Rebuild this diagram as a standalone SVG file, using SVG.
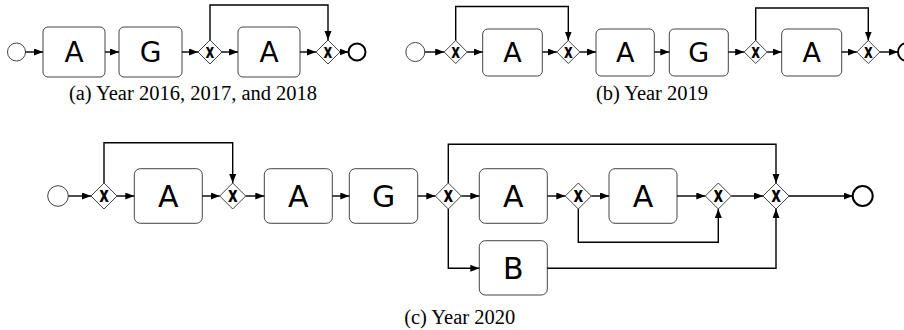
<svg xmlns="http://www.w3.org/2000/svg" width="904" height="330" viewBox="0 0 904 330">
<style>
.task{fill:#fff;stroke:#444;stroke-width:1}
.gw{fill:#fff;stroke:#444;stroke-width:1}
.st{fill:#fff;stroke:#444;stroke-width:1}
.en{fill:#fff;stroke:#000;stroke-width:2}
.lbl{font-family:"DejaVu Sans",sans-serif;fill:#000;text-anchor:middle}
.gx{font-family:"DejaVu Sans",sans-serif;font-weight:bold;fill:#000;text-anchor:middle}
.cap{font-family:"Liberation Serif",serif;font-size:20.5px;fill:#000;text-anchor:middle}
.e{fill:none;stroke:#000;stroke-width:1.4;marker-end:url(#ah)}
</style>
<defs>
<marker id="ah" markerUnits="userSpaceOnUse" markerWidth="10" markerHeight="8" refX="9" refY="3.5" orient="auto">
<path d="M0,0 L9,3.5 L0,7 z" fill="#000"/>
</marker>
</defs>
<rect width="904" height="330" fill="#fff"/>

<!-- (a) -->
<g id="a_start"><circle class="st" cx="16.5" cy="52" r="9"/></g>
<g id="a_A1"><rect class="task" x="43" y="27" width="62" height="50" rx="5"/><text class="lbl" x="74" y="62" font-size="28">A</text></g>
<g id="a_G"><rect class="task" x="119" y="27" width="63" height="50" rx="5"/><text class="lbl" x="150.5" y="62" font-size="28">G</text></g>
<g id="a_gw1"><path class="gw" d="M210,40 L222,52 L210,64 L198,52 z"/><text class="gx" transform="translate(210,57.5) scale(0.68,1)" font-size="20">x</text></g>
<g id="a_A2"><rect class="task" x="238" y="27" width="62" height="50" rx="5"/><text class="lbl" x="269" y="62" font-size="28">A</text></g>
<g id="a_gw2"><path class="gw" d="M328,40 L340,52 L328,64 L316,52 z"/><text class="gx" transform="translate(328,57.5) scale(0.68,1)" font-size="20">x</text></g>
<g id="a_end"><circle class="en" cx="357" cy="52" r="8.5"/></g>
<text class="cap" x="193" y="100">(a) Year 2016, 2017, and 2018</text>

<!-- (b) -->
<g id="b_start"><circle class="st" cx="415.3" cy="52" r="9.5"/></g>
<g id="b_gw1"><path class="gw" d="M455.7,40.5 L467.2,52 L455.7,63.5 L444.2,52 z"/><text class="gx" transform="translate(455.7,57.5) scale(0.68,1)" font-size="20">x</text></g>
<g id="b_A1"><rect class="task" x="482.7" y="29" width="59.6" height="47" rx="5"/><text class="lbl" x="512.5" y="62" font-size="27">A</text></g>
<g id="b_gw2"><path class="gw" d="M568.3,40.5 L579.8,52 L568.3,63.5 L556.8,52 z"/><text class="gx" transform="translate(568.3,57.5) scale(0.68,1)" font-size="20">x</text></g>
<g id="b_A2"><rect class="task" x="596" y="29" width="58.3" height="47" rx="5"/><text class="lbl" x="625.2" y="62" font-size="27">A</text></g>
<g id="b_G"><rect class="task" x="669.3" y="29" width="59" height="47" rx="5"/><text class="lbl" x="698.8" y="62" font-size="27">G</text></g>
<g id="b_gw3"><path class="gw" d="M755.7,40.5 L767.2,52 L755.7,63.5 L744.2,52 z"/><text class="gx" transform="translate(755.7,57.5) scale(0.68,1)" font-size="20">x</text></g>
<g id="b_A3"><rect class="task" x="781.7" y="29" width="60" height="47" rx="5"/><text class="lbl" x="811.7" y="62" font-size="27">A</text></g>
<g id="b_gw4"><path class="gw" d="M868.3,40.5 L879.8,52 L868.3,63.5 L856.8,52 z"/><text class="gx" transform="translate(868.3,57.5) scale(0.68,1)" font-size="20">x</text></g>
<g id="b_end"><circle class="en" cx="907" cy="52" r="9"/></g>
<text class="cap" x="652" y="100">(b) Year 2019</text>

<!-- (c) -->
<g id="c_start"><circle class="st" cx="58" cy="196" r="10.3"/></g>
<g id="c_gw1"><path class="gw" d="M104,183 L117,196 L104,209 L91,196 z"/><text class="gx" transform="translate(104,202) scale(0.68,1)" font-size="22">x</text></g>
<g id="c_A1"><rect class="task" x="134.3" y="168.7" width="68" height="54.6" rx="6"/><text class="lbl" x="168.3" y="207" font-size="30">A</text></g>
<g id="c_gw2"><path class="gw" d="M232.7,183 L245.7,196 L232.7,209 L219.7,196 z"/><text class="gx" transform="translate(232.7,202) scale(0.68,1)" font-size="22">x</text></g>
<g id="c_A2"><rect class="task" x="264.3" y="168.7" width="68" height="54.6" rx="6"/><text class="lbl" x="298.3" y="207" font-size="30">A</text></g>
<g id="c_G"><rect class="task" x="349.3" y="168.7" width="68.4" height="54.6" rx="6"/><text class="lbl" x="383.5" y="207" font-size="30">G</text></g>
<g id="c_gw3"><path class="gw" d="M448.3,183 L461.3,196 L448.3,209 L435.3,196 z"/><text class="gx" transform="translate(448.3,202) scale(0.68,1)" font-size="22">x</text></g>
<g id="c_A3"><rect class="task" x="479.3" y="168.7" width="68" height="54.6" rx="6"/><text class="lbl" x="513.3" y="207" font-size="30">A</text></g>
<g id="c_gw4"><path class="gw" d="M578.3,183 L591.3,196 L578.3,209 L565.3,196 z"/><text class="gx" transform="translate(578.3,202) scale(0.68,1)" font-size="22">x</text></g>
<g id="c_A4"><rect class="task" x="609" y="168.7" width="68" height="54.6" rx="6"/><text class="lbl" x="643" y="207" font-size="30">A</text></g>
<g id="c_gw5"><path class="gw" d="M718.3,183 L731.3,196 L718.3,209 L705.3,196 z"/><text class="gx" transform="translate(718.3,202) scale(0.68,1)" font-size="22">x</text></g>
<g id="c_gw6"><path class="gw" d="M776,183 L789,196 L776,209 L763,196 z"/><text class="gx" transform="translate(776,202) scale(0.68,1)" font-size="22">x</text></g>
<g id="c_B"><rect class="task" x="479.3" y="240.7" width="68" height="54.3" rx="6"/><text class="lbl" x="513.3" y="279" font-size="30">B</text></g>
<g id="c_end"><circle class="en" cx="862.7" cy="196" r="10"/></g>
<text class="cap" x="459.7" y="324">(c) Year 2020</text>

<g id="connectors">
<!-- a -->
<path class="e" d="M25.5,52 H43"/>
<path class="e" d="M105,52 H119"/>
<path class="e" d="M182,52 H198"/>
<path class="e" d="M222,52 H238"/>
<path class="e" d="M300,52 H316"/>
<path class="e" d="M340,52 H348.5"/>
<path class="e" d="M210,40 V5 H328 V40"/>
<!-- b -->
<path class="e" d="M424.8,52 H444.2"/>
<path class="e" d="M467.2,52 H482.7"/>
<path class="e" d="M542.3,52 H556.8"/>
<path class="e" d="M579.8,52 H596"/>
<path class="e" d="M654.3,52 H669.3"/>
<path class="e" d="M728.3,52 H744.2"/>
<path class="e" d="M767.2,52 H781.7"/>
<path class="e" d="M841.7,52 H856.8"/>
<path class="e" d="M879.8,52 H898"/>
<path class="e" d="M455.7,40.5 V6.5 H568.3 V40.5"/>
<path class="e" d="M755.7,40.5 V8 H868.3 V40.5"/>
<!-- c -->
<path class="e" d="M68.3,196 H91"/>
<path class="e" d="M117,196 H134.3"/>
<path class="e" d="M202.3,196 H219.7"/>
<path class="e" d="M245.7,196 H264.3"/>
<path class="e" d="M332.3,196 H349.3"/>
<path class="e" d="M417.7,196 H435.3"/>
<path class="e" d="M461.3,196 H479.3"/>
<path class="e" d="M547.3,196 H565.3"/>
<path class="e" d="M591.3,196 H609"/>
<path class="e" d="M677,196 H705.3"/>
<path class="e" d="M731.3,196 H763"/>
<path class="e" d="M789,196 H852.7"/>
<path class="e" d="M104,183 V142.7 H232.7 V183"/>
<path class="e" d="M448.3,183 V144.3 H776 V183"/>
<path class="e" d="M448.3,209 V268.3 H479.3"/>
<path class="e" d="M547.3,268.3 H776 V209"/>
<path class="e" d="M578.3,209 V242.3 H718.3 V209"/>
</g>
</svg>
